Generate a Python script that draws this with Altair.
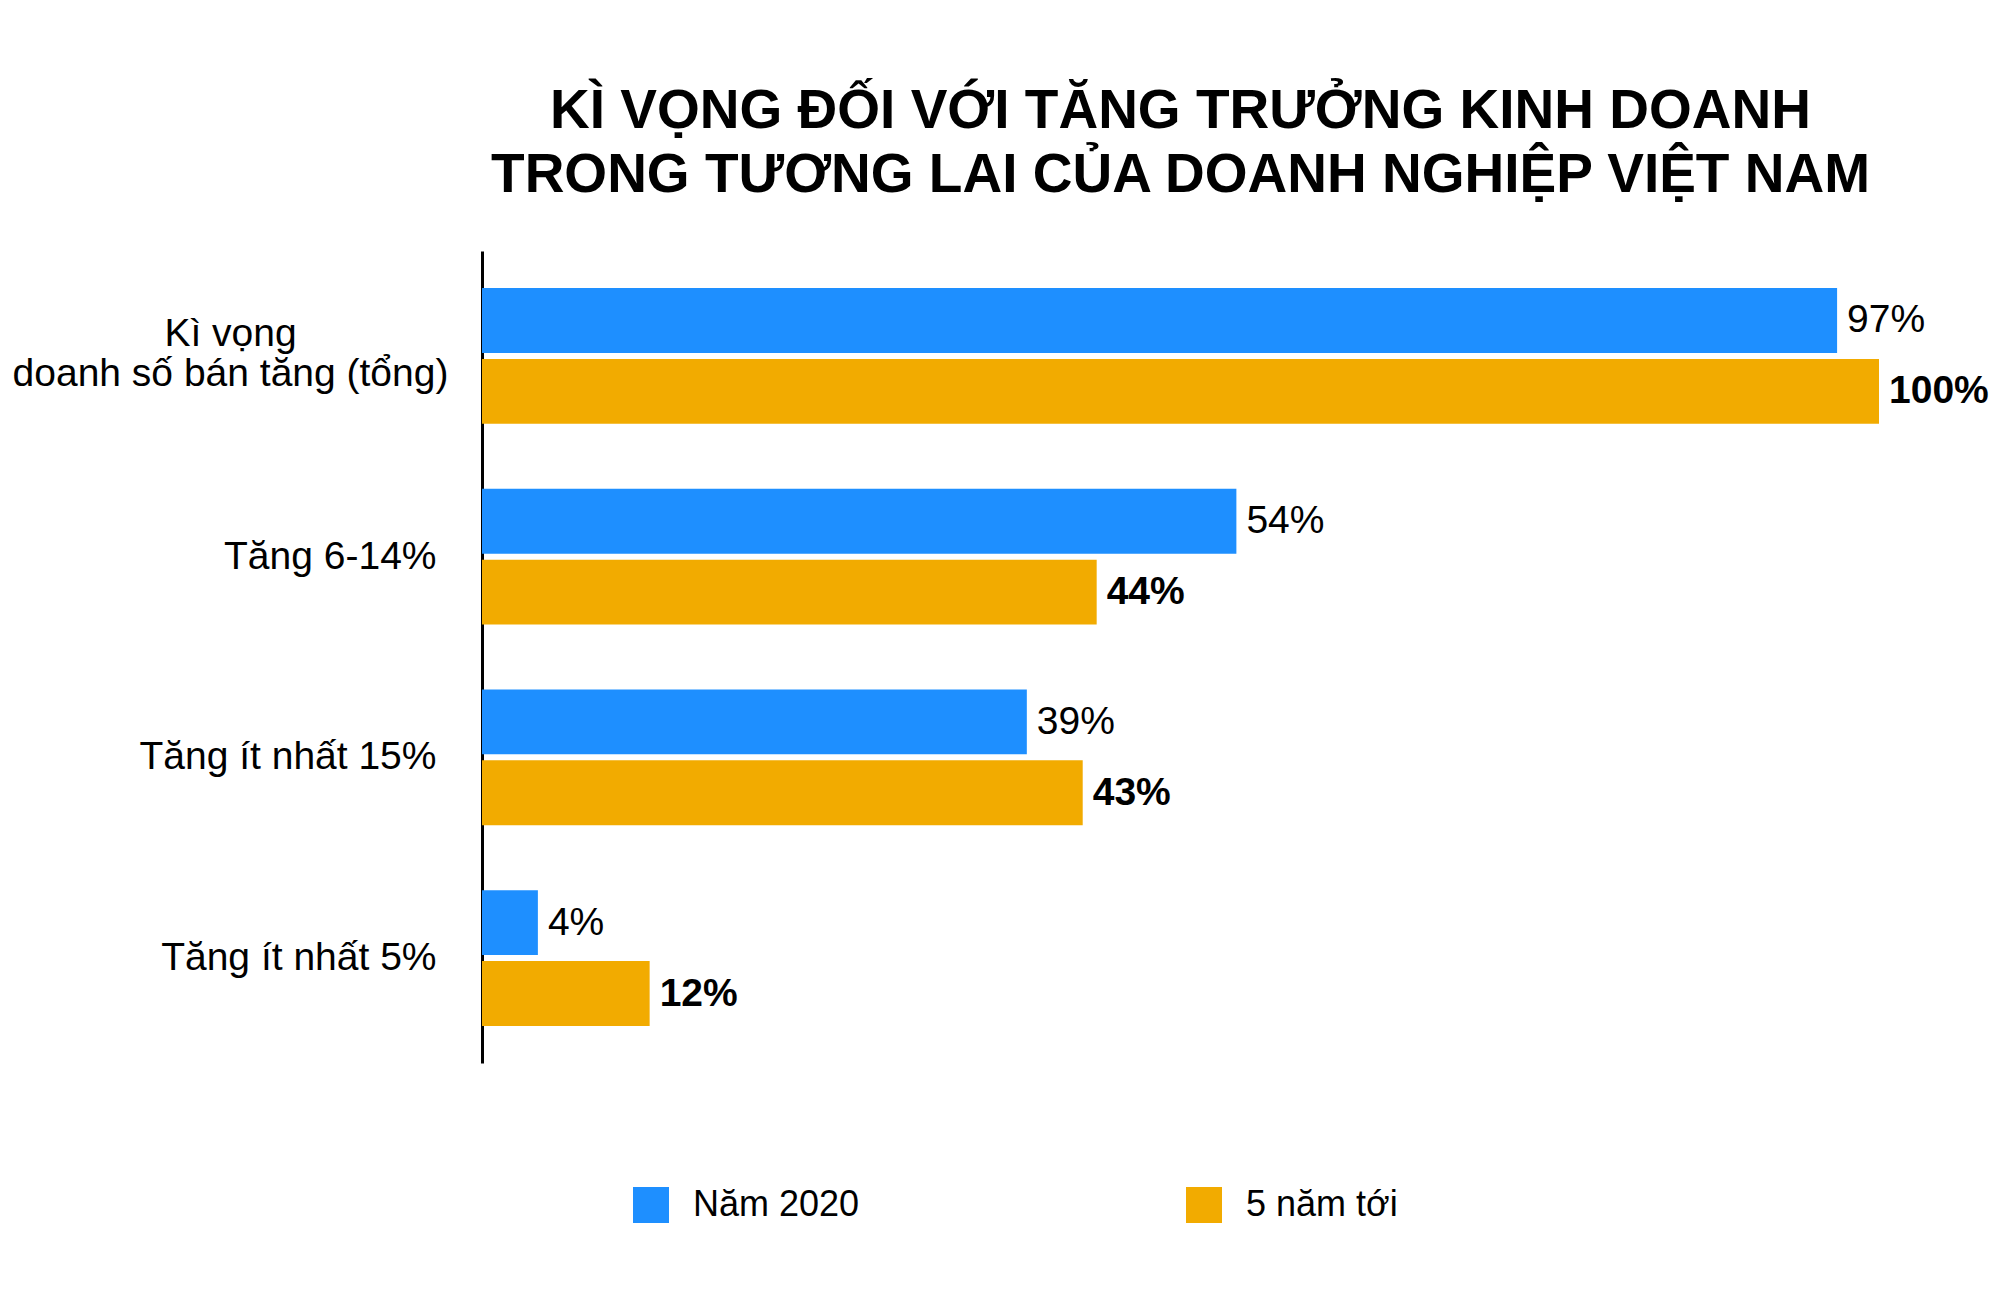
import pandas as pd
import altair as alt

# data
categories = [
    "Kì vọng\ndoanh số bán tăng (tổng)",
    "Tăng 6-14%",
    "Tăng ít nhất 15%",
    "Tăng ít nhất 5%",
]
series = ["Năm 2020", "5 năm tới"]
values_2020 = [97, 54, 39, 4]
values_next5 = [100, 44, 43, 12]
colors = ["#1E8FFF", "#F2AB00"]
title_lines = [
    "KÌ VỌNG ĐỐI VỚI TĂNG TRƯỞNG KINH DOANH",
    "TRONG TƯƠNG LAI CỦA DOANH NGHIỆP VIỆT NAM",
]

FONT = "Liberation Sans"

rows = []
for cat, a, b in zip(categories, values_2020, values_next5):
    rows.append({"category": cat, "series": series[0], "value": a, "label": f"{a}%"})
    rows.append({"category": cat, "series": series[1], "value": b, "label": f"{b}%"})
df = pd.DataFrame(rows)

# the two-line label is centred on itself, the others are right-aligned
first_label = "indexof(datum.label, 'tổng') >= 0"

y_enc = alt.Y(
    "category:N",
    sort=categories,
    title=None,
    scale=alt.Scale(paddingInner=0.323, paddingOuter=0.184),
    axis=alt.Axis(
        domain=True,
        domainColor="black",
        domainWidth=3,
        ticks=False,
        tickSize=0,
        grid=False,
        labelFont=FONT,
        labelFontSize=39,
        labelColor="black",
        labelLimit=700,
        labelLineHeight=40,
        labelExpr="split(datum.label, '\\n')",
        labelAlign={"condition": {"test": first_label, "value": "center"}, "value": "right"},
        labelPadding={"condition": {"test": first_label, "value": 252}, "value": 46},
        labelOffset={"condition": {"test": first_label, "value": -22}, "value": 0},
    ),
)
yoff_enc = alt.YOffset(
    "series:N", sort=series, scale=alt.Scale(paddingInner=0.0845, paddingOuter=0)
)
x_enc = alt.X("value:Q", scale=alt.Scale(domain=[0, 100]), axis=None)

base = alt.Chart(df).encode(y=y_enc, yOffset=yoff_enc, x=x_enc)

bars = base.mark_bar().encode(
    color=alt.Color(
        "series:N",
        sort=series,
        scale=alt.Scale(domain=series, range=colors),
        legend=alt.Legend(
            title=None,
            orient="none",
            legendX=151,
            legendY=936,
            direction="horizontal",
            symbolType="square",
            symbolSize=1296,
            symbolStrokeWidth=0,
            labelFont=FONT,
            labelFontSize=36,
            labelColor="black",
            labelOffset=24,
            labelLimit=400,
            columnPadding=326,
            padding=0,
        ),
    )
)

text_2020 = base.mark_text(
    align="left", baseline="middle", dx=10, font=FONT, fontSize=39, color="black"
).encode(text="label:N").transform_filter(alt.datum.series == series[0])

text_next5 = base.mark_text(
    align="left", baseline="middle", dx=10, font=FONT, fontSize=39,
    fontWeight="bold", color="black"
).encode(text="label:N").transform_filter(alt.datum.series == series[1])

chart = alt.layer(bars, text_2020, text_next5).properties(
    width=1397,
    height=812,
    autosize="none",
    padding={"left": 474, "top": 243, "right": 113, "bottom": 231},
    title=alt.TitleParams(
        title_lines,
        font=FONT,
        fontSize=55,
        fontWeight="bold",
        color="black",
        lineHeight=64,
        anchor="middle",
        offset=47,
    ),
).configure_view(stroke=None)

chart.save("out.html", embed_options={"renderer": "svg", "actions": False})
